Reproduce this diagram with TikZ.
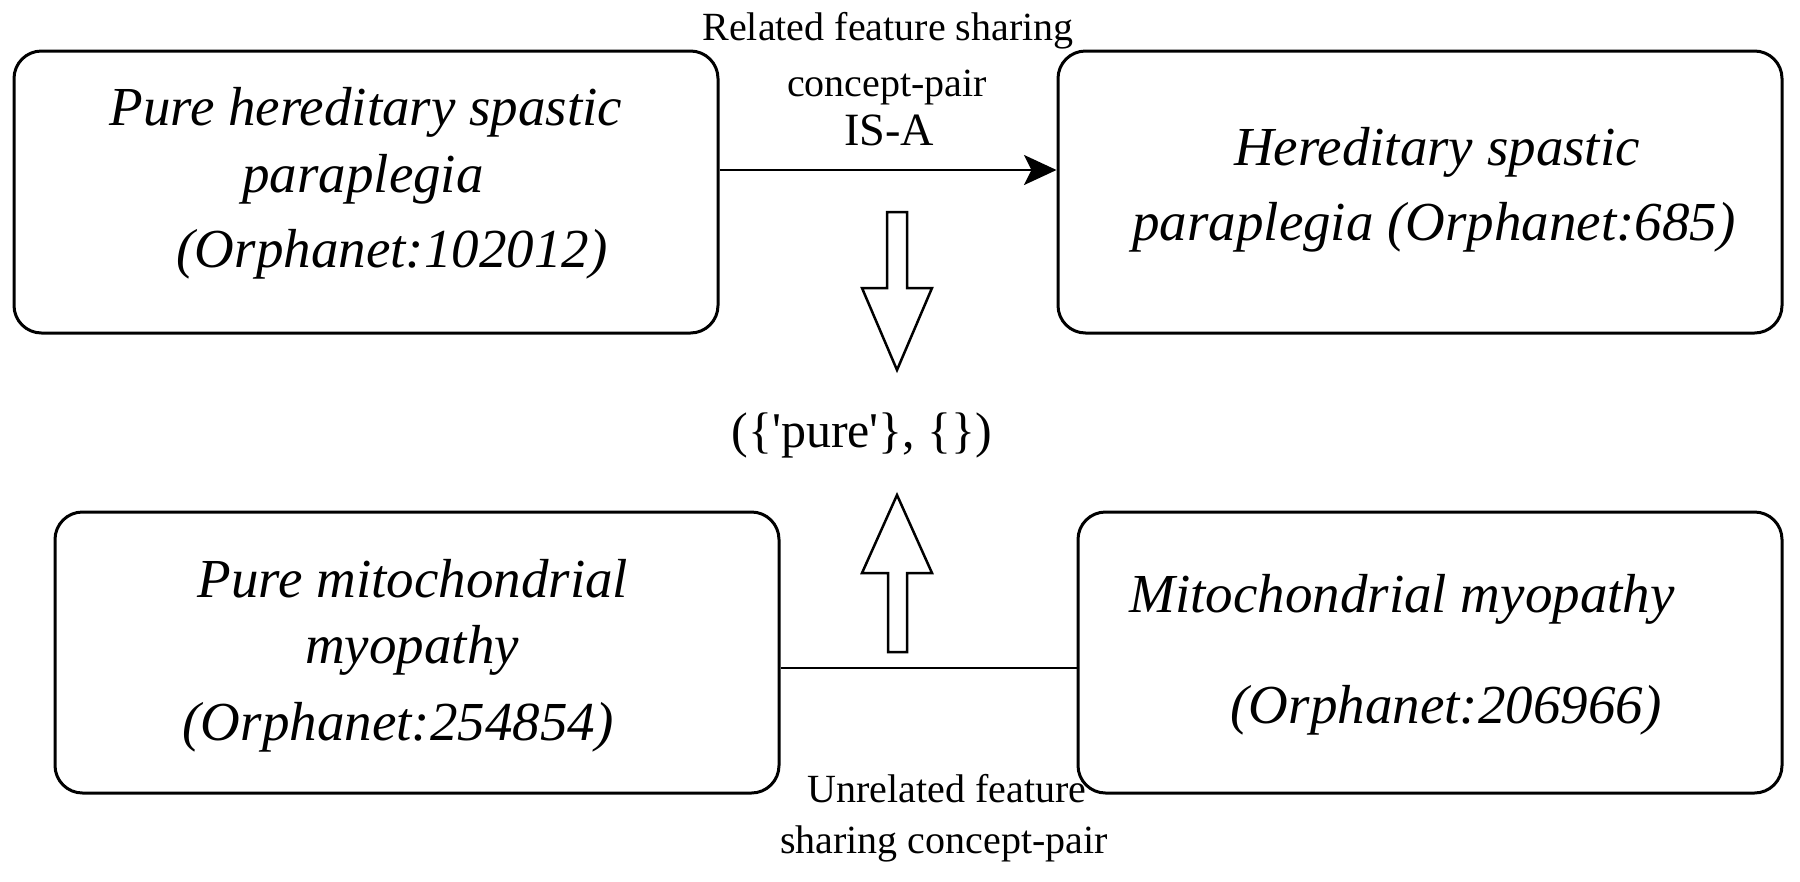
\documentclass[tikz,border=0pt]{standalone}
\usepackage{fontspec}
\setmainfont{Liberation Serif}
\usetikzlibrary{arrows.meta,calc}
\begin{document}
\begin{tikzpicture}[x=0.4pt,y=-0.4pt,
  box/.style={draw, line width=1.2pt, rounded corners=11pt, inner sep=0pt},
  btxt/.style={anchor=base, inner sep=0pt, font=\fontsize{22}{26}\selectfont\itshape},
  lbl/.style={anchor=base, inner sep=0pt, font=\fontsize{16}{19}\selectfont},
  blk/.style={draw, line width=1pt, fill=white, line join=miter},
  conn/.style={line width=1.1pt}]
\useasboundingbox (0,0) rectangle (1800,881);
% boxes
\node[box, minimum width=704*0.4pt, minimum height=282*0.4pt] (TL) at (366,192) {};
\node[box, minimum width=724*0.4pt, minimum height=282*0.4pt] (TR) at (1420,192) {};
\node[box, minimum width=724*0.4pt, minimum height=281*0.4pt] (BL) at (417,652.5) {};
\node[box, minimum width=704*0.4pt, minimum height=281*0.4pt] (BR) at (1430,652.5) {};
% box texts
\node[btxt] (tl1) at (366,125) {Pure hereditary spastic};
\node[btxt] (tl2) at (363,192) {paraplegia};
\node[btxt] (tl3) at (392,267) {(Orphanet:102012)};
\node[btxt] (tr1) at (1437,165) {Hereditary spastic};
\node[btxt] (tr2) at (1434,240) {paraplegia (Orphanet:685)};
\node[btxt] (bl1) at (413,597) {Pure mitochondrial};
\node[btxt] (bl2) at (412,663) {myopathy};
\node[btxt] (bl3) at (398,740) {(Orphanet:254854)};
\node[btxt] (br1) at (1402,612) {Mitochondrial myopathy};
\node[btxt] (br2) at (1446,723) {(Orphanet:206966)};
% labels
\node[lbl] (r1) at (888,40) {Related feature sharing};
\node[lbl] (r2) at (887,96) {concept-pair};
\node[lbl, font=\fontsize{18.5}{22}\selectfont] (r3) at (889,145) {IS-A};
\node[lbl] (u1) at (947,802) {Unrelated feature};
\node[lbl] (u2) at (944,853) {sharing concept-pair};
\node[anchor=base, inner sep=0pt, font=\fontsize{20}{24}\selectfont] (pure) at (862,447) {(\{\textquotesingle pure\textquotesingle\}, \{\})};
% connectors
\draw[conn, -{Stealth[length=13pt,width=12pt,inset=3pt]}] (TL.east |- 0,170) -- (TR.west |- 0,170);
\draw[conn] (BL.east |- 0,668) -- (BR.west |- 0,668);
% block arrows
\draw[blk] (887,212) -- (907,212) -- (907,288) -- (932,288) -- (897,370) -- (862,288) -- (887,288) -- cycle;
\draw[blk] (897,495) -- (932,573) -- (907,573) -- (907,652) -- (888,652) -- (888,573) -- (862,573) -- cycle;
\end{tikzpicture}
\end{document}
